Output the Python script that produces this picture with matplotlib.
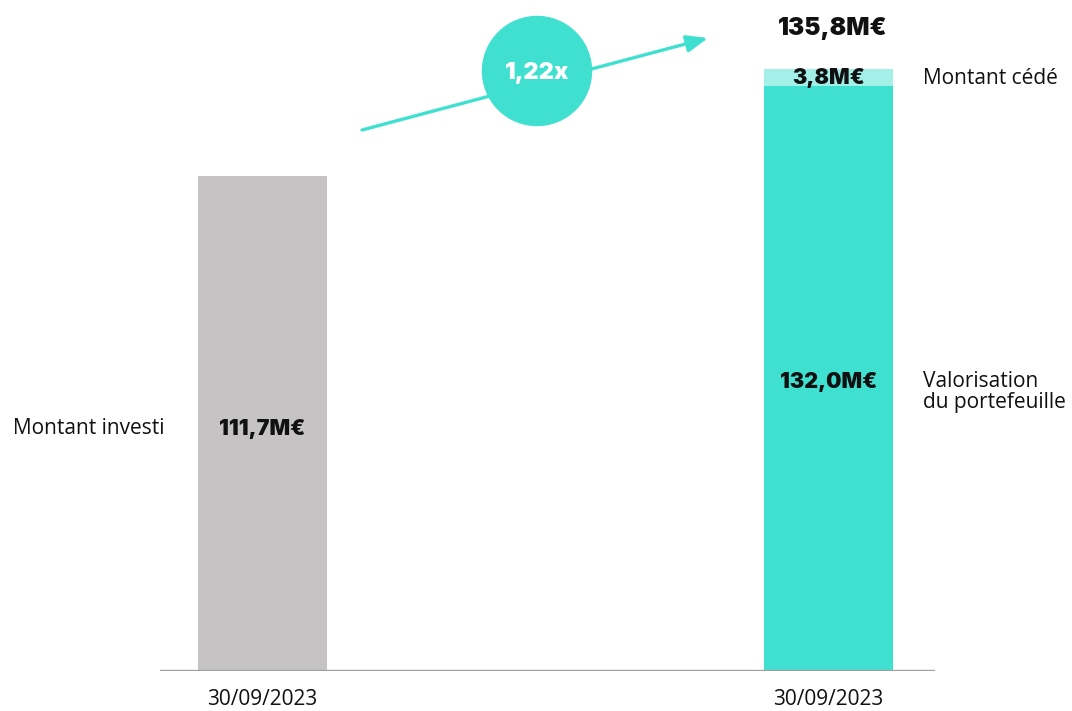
import matplotlib
matplotlib.use("Agg")
import matplotlib.pyplot as plt
from matplotlib.patches import Circle, FancyArrowPatch

# Values (M€)
dates = ["30/09/2023", "30/09/2023"]
invested = 111.7
portfolio_value = 132.0
divested = 3.8
total_value = portfolio_value + divested
multiple = total_value / invested

GREY = "#c5c3c4"
TEAL = "#40e0d0"
TEAL_LIGHT = "#a2f0e8"
AXIS_GREY = "#a0a0a0"

REG = "Open Sans"
BOLD = "Inter"

def fmt(v):
    return f"{v:.1f}".replace(".", ",") + "M€"

W, H = 1072, 711
fig = plt.figure(figsize=(W / 100, H / 100), dpi=100)

ax = fig.add_axes([160 / W, 40 / H, 775 / W, 671 / H])
ax.set_xlim(-0.181, 1.188)
ax.set_ylim(0, 151.4)
bw = 0.228

ax.bar(0, invested, width=bw, color=GREY, zorder=2)
ax.bar(1, portfolio_value, width=bw, color=TEAL, zorder=2)
ax.bar(1, divested, bottom=portfolio_value, width=bw, color=TEAL_LIGHT, zorder=2)

ax.axhline(0, color=AXIS_GREY, lw=2.4, zorder=3)
for s in ax.spines.values():
    s.set_visible(False)
ax.set_yticks([])
ax.set_xticks([0, 1])
ax.set_xticklabels(dates, fontsize=15, family=REG, color="#111111")
ax.tick_params(axis="x", length=0, pad=13)

bkw = dict(family=BOLD, fontweight="black", color="#111111", ha="center", va="center")
ax.text(0, invested / 2 - 1.2, fmt(invested), fontsize=15.5, **bkw)
ax.text(1, portfolio_value / 2 - 0.8, fmt(portfolio_value), fontsize=15.5, **bkw)
ax.text(1, portfolio_value + divested / 2 - 0.2, fmt(divested), fontsize=15.5, **bkw)
ax.text(1.008, total_value + 9.1, fmt(total_value), fontsize=17.5, **bkw)

rkw = dict(family=REG, fontsize=15, color="#111111", va="center")
ax.text(-0.4408, invested / 2 - 1.2, "Montant investi", ha="left", **rkw)
ax.text(1.167, portfolio_value + divested / 2 - 0.2, "Montant cédé", ha="left", **rkw)
ax.text(1.167, portfolio_value / 2 - 3.0, "Valorisation\ndu portefeuille", ha="left",
        linespacing=1.0, **rkw)

# Growth arrow with multiple badge, drawn in figure pixel space
ov = fig.add_axes([0, 0, 1, 1], zorder=5)
ov.set_xlim(0, W)
ov.set_ylim(H, 0)
ov.axis("off")
ov.patch.set_alpha(0)
ov.add_patch(FancyArrowPatch((362, 130), (708, 38), arrowstyle="-|>,head_length=8,head_width=3.2",
                             color=TEAL, lw=2.4, mutation_scale=1.6, shrinkA=0, shrinkB=0))
ov.add_patch(Circle((537, 71), 54.5, color=TEAL, zorder=6))
ov.text(537, 73, f"{multiple:.2f}".replace(".", ",") + "x", color="white", fontsize=17,
        family=BOLD, fontweight="black", ha="center", va="center", zorder=7)

fig.savefig("out.png", dpi=100)
